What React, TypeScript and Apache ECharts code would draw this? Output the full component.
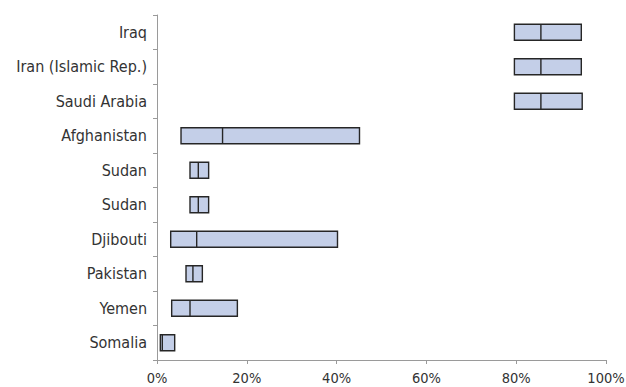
import React, { useEffect, useRef } from "react";
import * as echarts from "echarts";

const categories = [
  "Iraq",
  "Iran (Islamic Rep.)",
  "Saudi Arabia",
  "Afghanistan",
  "Sudan",
  "Sudan",
  "Djibouti",
  "Pakistan",
  "Yemen",
  "Somalia",
];
const lowValues = [79.6, 79.6, 79.6, 5.35, 7.35, 7.35, 3.05, 6.46, 3.27, 0.74];
const medianValues = [85.5, 85.5, 85.5, 14.6, 9.2, 9.2, 8.84, 8.0, 7.35, 1.18];
const highValues = [94.5, 94.5, 94.7, 45.1, 11.5, 11.5, 40.2, 10.1, 17.9, 3.94];
const xTicks = [0, 20, 40, 60, 80, 100];

const FONT = "'DejaVu Sans Condensed', 'DejaVu Sans', sans-serif";

export default function App() {
  const ref = useRef<HTMLDivElement>(null);
  useEffect(() => {
    if (!ref.current) return;
    const chart = echarts.init(ref.current, undefined, { renderer: "svg" });
    const data = categories.map((_, i) => [i, lowValues[i], medianValues[i], highValues[i]]);
    chart.setOption({
      animation: false,
      grid: {
        left: 157,
        right: 20,
        top: 15,
        bottom: 27,
        containLabel: false,
        outerBoundsMode: "none",
      },
      xAxis: {
        type: "value",
        min: xTicks[0],
        max: xTicks[xTicks.length - 1],
        interval: 20,
        axisLine: { show: true, lineStyle: { color: "#9a9a9a", width: 1 } },
        axisTick: { show: true, length: 4, lineStyle: { color: "#9a9a9a" } },
        splitLine: { show: false },
        axisLabel: {
          formatter: (v: number) => v + "%",
          color: "#333",
          fontSize: 14.5,
          fontFamily: FONT,
          margin: 10,
        },
      },
      yAxis: {
        type: "category",
        data: categories.map((c, i) => ({ value: String(i), label: c })),
        inverse: true,
        axisLine: { show: true, lineStyle: { color: "#9a9a9a", width: 1 } },
        axisTick: { show: true, length: 4, lineStyle: { color: "#9a9a9a" } },
        axisLabel: {
          color: "#333",
          fontSize: 16,
          fontFamily: FONT,
          margin: 10,
          formatter: (_v: string, idx: number) => categories[idx],
        },
        splitLine: { show: false },
      },
      series: [
        {
          type: "custom",
          data,
          encode: { x: [1, 2, 3], y: 0 },
          renderItem: (params: any, api: any) => {
            const cat = api.value(0);
            const lo = api.coord([api.value(1), cat]);
            const med = api.coord([api.value(2), cat]);
            const hi = api.coord([api.value(3), cat]);
            const h = api.size([0, 1])[1] * 0.46;
            const y0 = lo[1] - h / 2;
            return {
              type: "group",
              children: [
                {
                  type: "rect",
                  shape: { x: lo[0], y: y0, width: hi[0] - lo[0], height: h },
                  style: { fill: "#c4cfe8", stroke: "#262626", lineWidth: 1.4 },
                },
                {
                  type: "line",
                  shape: { x1: med[0], y1: y0, x2: med[0], y2: y0 + h },
                  style: { stroke: "#262626", lineWidth: 1.4 },
                },
              ],
            };
          },
        },
      ],
    });
    return () => chart.dispose();
  }, []);
  return (
    <div
      ref={ref}
      style={{ position: "absolute", left: 0, top: 0, width: 626, height: 387 }}
    />
  );
}
